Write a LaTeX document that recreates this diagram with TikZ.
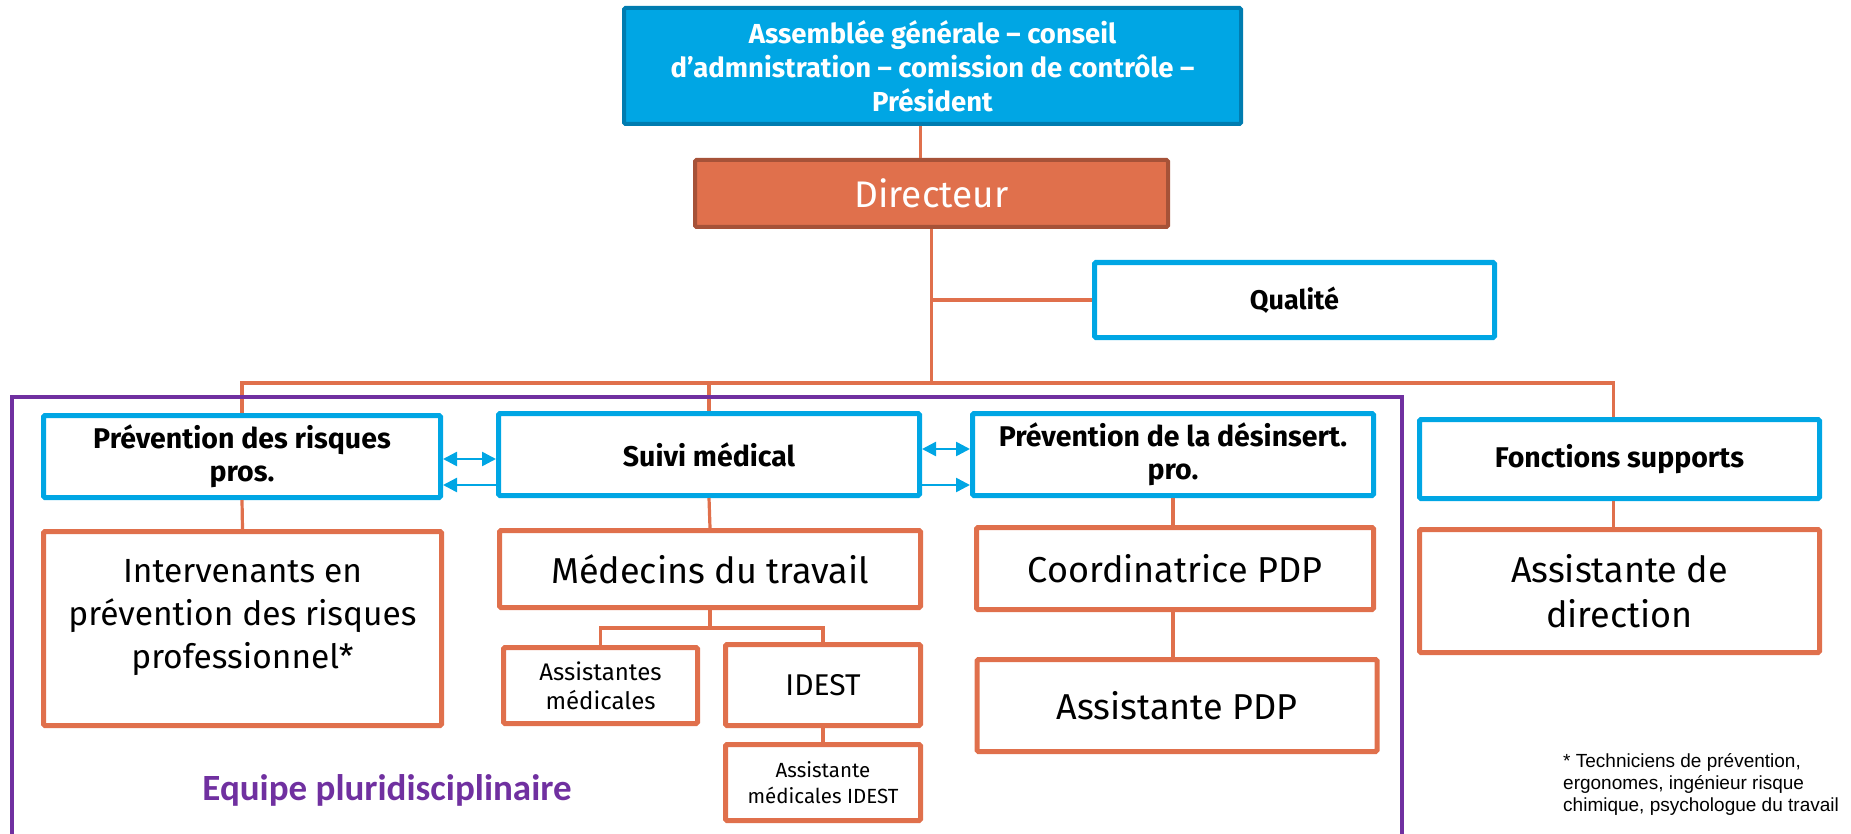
\documentclass[tikz,border=0pt]{standalone}
\usepackage{fontspec}
\setmainfont{Fira Sans}
\newfontfamily\carlitofont{Carlito}
\newfontfamily\notefont{Liberation Sans}
\usetikzlibrary{arrows.meta,positioning}
\definecolor{cblue}{RGB}{0,166,228}
\definecolor{cbluedark}{RGB}{0,124,176}
\definecolor{corange}{RGB}{224,112,76}
\definecolor{corangedark}{RGB}{166,82,56}
\definecolor{cpurple}{RGB}{112,48,160}

\begin{document}
\begin{tikzpicture}[x=1pt,y=-1pt,
   box/.style={draw, rectangle, rounded corners=1.5pt, inner sep=0pt, align=center},
   bluebox/.style={box, draw=cblue, line width=5pt, font=\fontsize{28.5}{33}\selectfont\bfseries},
   orangebox/.style={box, draw=corange, line width=5pt, font=\fontsize{36}{45}\selectfont},
   smallbox/.style={orangebox, font=\fontsize{24}{29}\selectfont},
   link/.style={draw=corange, line width=3.2pt},
   arr/.style={draw=cblue, line width=2.5pt, -{Triangle[length=14pt,width=14pt]}},
   dblarr/.style={arr, {Triangle[length=14pt,width=14pt]}-{Triangle[length=14pt,width=14pt]}}]
   \useasboundingbox (0,0) rectangle (1851,834);

   \node[box, fill=cblue, draw=cbluedark, line width=4pt, text=white,
         font=\fontsize{27.5}{34}\selectfont\bfseries,
         minimum width=617pt, minimum height=116pt] (assemblee) at (932.5,66)
         {Assemblée générale – conseil\\d’admnistration – comission de contrôle –\\Président};
   \node[box, fill=corange, draw=corangedark, line width=4pt, text=white,
         font=\fontsize{37}{42}\selectfont,
         minimum width=473pt, minimum height=67pt] (directeur) at (931.5,193.5) {Directeur};
   \node[bluebox, font=\fontsize{27}{32}\selectfont\bfseries,
         minimum width=400pt, minimum height=75pt] (qualite) at (1294.5,300) {Qualité};

   \node[bluebox, minimum width=397pt, minimum height=82pt] (prev_risques) at (242,456.5) {Prévention des risques\\pros.};
   \node[bluebox, minimum width=421pt, minimum height=82pt] (suivi) at (709,454.5) {Suivi médical};
   \node[bluebox, minimum width=401pt, minimum height=82pt] (desinsert) at (1173,454.5) {Prévention de la désinsert.\\pro.};
   \node[bluebox, minimum width=400pt, minimum height=79pt] (supports) at (1619.5,459) {Fonctions supports};

   \node[orangebox, font=\fontsize{33.5}{43}\selectfont,
         minimum width=398pt, minimum height=194pt] (intervenants) at (242.5,628.5)
         {Intervenants en\\prévention des risques\\professionnel*\\[-14pt]};
   \node[orangebox, minimum width=421pt, minimum height=77pt] (medecins) at (710,569) {Médecins du travail};
   \node[orangebox, minimum width=397pt, minimum height=82pt] (coord_pdp) at (1175,568.5) {Coordinatrice PDP};
   \node[orangebox, minimum width=400pt, minimum height=92pt] (assist_pdp) at (1177,705.5) {Assistante PDP};
   \node[orangebox, minimum width=400pt, minimum height=123pt] (assist_dir) at (1619.5,591) {Assistante de\\direction};

   \node[smallbox, minimum width=194pt, minimum height=76pt] (assist_med) at (600.5,685.5) {Assistantes\\médicales};
   \node[orangebox, font=\fontsize{30}{36}\selectfont,
         minimum width=195pt, minimum height=81pt] (idest) at (823,685) {IDEST};
   \node[smallbox, font=\fontsize{20.5}{26}\selectfont,
         minimum width=195pt, minimum height=76pt] (assist_idest) at (823,782.5) {Assistante\\médicales IDEST};

   \coordinate (bus) at (931.5,383);
   \coordinate (med_bus) at (710,628);

   \draw[link] ([xshift=-12pt]assemblee.south) -- ([xshift=-12pt]assemblee.south |- directeur.north);
   \draw[link] (directeur.south) -- (bus);
   \draw[link] (qualite.west) -- (qualite.west -| bus);
   \draw[link] (prev_risques.north) |- (bus) -| ([xshift=-6pt]supports.north);
   \draw[link] (suivi.north) -- (suivi.north |- bus);
   \draw[link] (prev_risques.south) -- (intervenants.north);
   \draw[link] (suivi.south) -- (medecins.north);
   \draw[link] (desinsert.south) -- (desinsert.south |- coord_pdp.north);
   \draw[link] (coord_pdp.south -| desinsert.south) -- (desinsert.south |- assist_pdp.north);
   \draw[link] ([xshift=-6pt]supports.south) -- ([xshift=-6pt]assist_dir.north);
   \draw[link] (medecins.south) -- (med_bus);
   \draw[link] (assist_med.north) |- (med_bus) -| (idest.north);
   \draw[link] (idest.south) -- (assist_idest.north);

   \draw[dblarr] ([yshift=-2.5pt]prev_risques.east) -- ([yshift=-2.5pt]prev_risques.east -| suivi.west);
   \draw[arr] ([yshift=-30.5pt]suivi.west) -- ([yshift=-30.5pt]suivi.west -| prev_risques.east);
   \draw[dblarr] ([yshift=5.5pt]suivi.east) -- ([yshift=5.5pt]suivi.east -| desinsert.west);
   \draw[arr] ([yshift=-30.5pt]suivi.east) -- ([yshift=-30.5pt]suivi.east -| desinsert.west);

   \draw[cpurple, line width=4pt] (12,840) |- (1402,397) -- (1402,840);
   \node[text=cpurple, font=\carlitofont\fontsize{37}{42}\selectfont\bfseries] (equipe) at (387,790)
         {Equipe pluridisciplinaire};
   \node[anchor=west, inner sep=0pt, align=left, font=\notefont\fontsize{19}{22}\selectfont] (note) at (1563,784)
         {* Techniciens de prévention,\\ergonomes, ingénieur risque\\chimique, psychologue du travail};
\end{tikzpicture}
\end{document}
